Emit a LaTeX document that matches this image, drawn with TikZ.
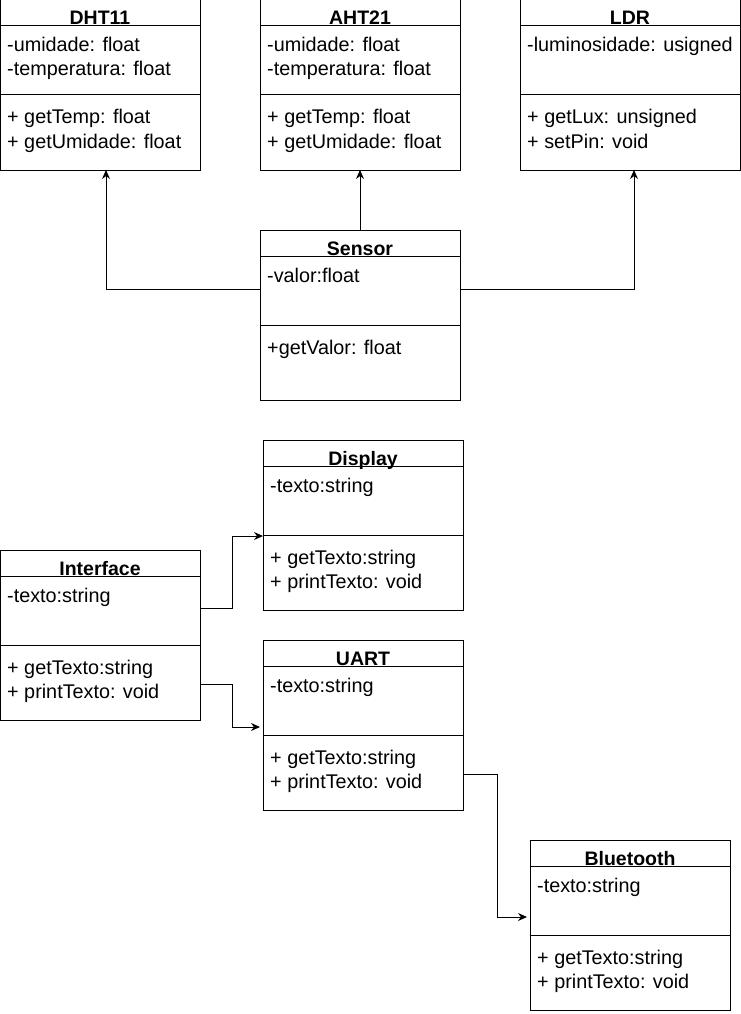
\documentclass[tikz,border=0pt]{standalone}
\usepackage{fontspec}
\setmainfont{Liberation Sans}
\usepackage{tikz}
\usetikzlibrary{arrows.meta}

% one class box: name, top left corner, width, title, attributes, methods
\newcommand{\classbox}[6]{%
  \node[classframe, minimum width=#3pt, anchor=north west] (#1) at (#2) {};
  \draw[sepline] ([yshift=-26pt]#1.north west) -- ([yshift=-26pt]#1.north east);
  \draw[sepline] ([yshift=-95pt]#1.north west) -- ([yshift=-95pt]#1.north east);
  \node[classtitle] (#1-title) at ([yshift=-25pt]#1.north) {#4};
  \foreach \entry [count=\i] in {#5}
    \node[classtext] (#1-attr\i) at ([xshift=7pt,yshift={-28pt-24pt*\i}]#1.north west) {\entry};
  \foreach \entry [count=\i] in {#6}
    \node[classtext] (#1-meth\i) at ([xshift=7pt,yshift={-100pt-24pt*\i}]#1.north west) {\entry};
}

\begin{document}
\begin{tikzpicture}[
  x=1pt, y=-1pt,
  classframe/.style={draw, line width=1pt, minimum height=170pt, inner sep=0pt, outer sep=0pt},
  sepline/.style={line width=1pt},
  classtitle/.style={anchor=base, inner sep=0pt, font=\fontsize{19.5}{24}\selectfont\bfseries},
  classtext/.style={anchor=base west, inner sep=0pt, font=\fontsize{19.8}{24}\selectfont},
  assoc/.style={line width=1pt, -{Stealth[length=9pt, width=8pt]}}]

\useasboundingbox (0,0) rectangle (741,1014);

% sensors
\classbox{dht}{0,0}{200}{DHT11}{-umidade: float, -temperatura: float}{+ getTemp: float, + getUmidade: float}
\classbox{aht}{260,0}{200}{AHT21}{-umidade: float, -temperatura: float}{+ getTemp: float, + getUmidade: float}
\classbox{ldr}{520,0}{220}{LDR}{-luminosidade: usigned}{+ getLux: unsigned, + setPin: void}
\classbox{sensor}{260,230}{200}{Sensor}{-valor:float}{+getValor: float}

% interfaces
\classbox{display}{263,440}{200}{Display}{-texto:string}{+ getTexto:string, + printTexto: void}
\classbox{iface}{0,550}{200}{Interface}{-texto:string}{+ getTexto:string, + printTexto: void}
\classbox{uart}{263,640}{200}{UART}{-texto:string}{+ getTexto:string, + printTexto: void}
\classbox{bt}{530,840}{200}{Bluetooth}{-texto:string}{+ getTexto:string, + printTexto: void}

\draw[assoc] ([yshift=26pt]sensor.west) -| ([xshift=6pt]dht.south);
\draw[assoc] (sensor.north) -- (aht.south);
\draw[assoc] ([yshift=26pt]sensor.east) -| ([xshift=4pt]ldr.south);

\draw[assoc] ([yshift=27pt]iface.east) -- ++(32,0) |- ([yshift=-11pt]display.west);
\draw[assoc, shorten >=3pt] ([yshift=-49pt]iface.east) -- ++(32,0) |- ([yshift=-2pt]uart.west);
\draw[assoc, shorten >=3pt] ([yshift=-49pt]uart.east) -- ++(34,0) |- ([yshift=8pt]bt.west);
\end{tikzpicture}
\end{document}
